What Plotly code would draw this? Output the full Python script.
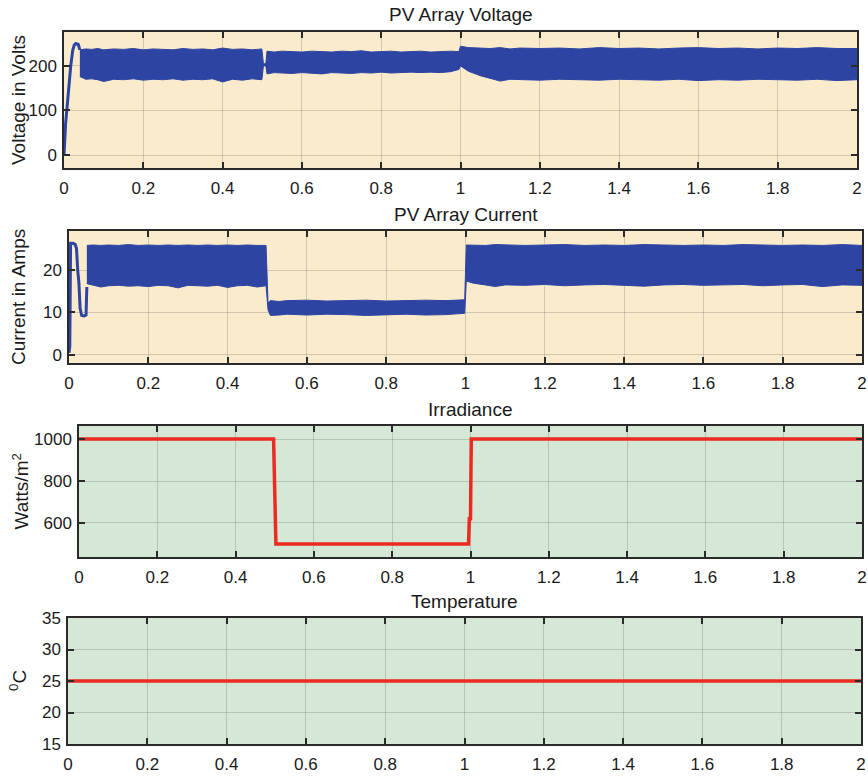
import plotly.graph_objects as go

# ---------------- data ----------------
# PV array voltage: start-up transient
volt_start_t = [0.0, 0.001, 0.004, 0.008, 0.012, 0.017, 0.022, 0.026, 0.030, 0.036, 0.040]
volt_start_v = [0, 20, 70, 110, 160, 200, 235, 247, 250, 248, 236]
# PV array voltage: ripple band envelope (upper / lower)
volt_band_t = [0.040, 0.055, 0.07, 0.085, 0.10, 0.125, 0.15, 0.175, 0.20, 0.225, 0.25, 0.275,
               0.30, 0.325, 0.35, 0.375, 0.40, 0.425, 0.45, 0.475, 0.499,
               0.503, 0.509,
               0.512, 0.53, 0.55, 0.575, 0.60, 0.625, 0.65, 0.675, 0.70, 0.725, 0.75, 0.775,
               0.80, 0.825, 0.85, 0.875, 0.90, 0.925, 0.95, 0.975, 0.996,
               1.000, 1.02, 1.05, 1.075, 1.10, 1.125, 1.15, 1.20, 1.25, 1.30, 1.35, 1.40, 1.45,
               1.50, 1.55, 1.60, 1.65, 1.70, 1.75, 1.80, 1.85, 1.90, 1.95, 2.00]
volt_band_hi = [236, 238, 237, 239, 236, 238, 237, 239, 236, 238, 237, 236,
                239, 237, 238, 236, 240, 237, 238, 236, 238,
                205, 205,
                233, 231, 233, 232, 231, 233, 232, 231, 233, 232, 234, 231,
                232, 233, 231, 232, 233, 231, 232, 233, 232,
                244, 241, 240, 239, 241, 238, 240, 239, 240, 238, 241, 239, 240,
                238, 240, 241, 239, 240, 238, 240, 239, 241, 239, 239]
volt_band_lo = [176, 170, 171, 169, 165, 170, 169, 171, 168, 170, 169, 171,
                168, 170, 169, 171, 164, 170, 168, 171, 169,
                200, 200,
                182, 185, 184, 183, 185, 184, 182, 185, 184, 183, 185, 184,
                186, 184, 185, 186, 185, 186, 185, 187, 192,
                200, 188, 178, 172, 166, 170, 169, 168, 170, 169, 168, 170, 169,
                168, 170, 167, 169, 168, 170, 169, 168, 170, 167, 169]

# PV array current: start-up transient
curr_start_t = [0.0, 0.002, 0.004, 0.010, 0.016, 0.019, 0.022, 0.025, 0.028, 0.032, 0.038, 0.043, 0.045]
curr_start_i = [0.5, 2.0, 26.3, 26.3, 26.0, 25.0, 20.0, 17.0, 11.0, 9.3, 9.2, 9.4, 16.0]
# PV array current: ripple band envelope
curr_band_t = [0.045, 0.06, 0.08, 0.10, 0.125, 0.15, 0.175, 0.20, 0.225, 0.25, 0.275, 0.30,
               0.325, 0.35, 0.375, 0.40, 0.425, 0.45, 0.475, 0.497,
               0.502, 0.508, 0.53, 0.55, 0.60, 0.65, 0.70, 0.75, 0.80, 0.85, 0.90, 0.95, 0.998,
               1.002, 1.02, 1.05, 1.075, 1.10, 1.15, 1.20, 1.25, 1.30, 1.35, 1.40, 1.45, 1.50,
               1.55, 1.60, 1.65, 1.70, 1.75, 1.80, 1.85, 1.90, 1.95, 2.00]
curr_band_hi = [25.8, 25.9, 25.8, 25.9, 25.8, 26.0, 25.8, 25.9, 25.8, 25.9, 25.8, 25.9,
                25.8, 25.9, 25.8, 25.9, 25.8, 25.9, 25.8, 25.8,
                12.2, 12.8, 12.6, 12.8, 12.9, 12.7, 12.8, 12.9, 12.7, 12.8, 12.9, 12.8, 13.0,
                25.9, 25.9, 25.8, 26.0, 25.9, 25.8, 25.9, 26.0, 25.8, 25.9, 25.8, 26.0, 25.9,
                25.8, 25.9, 25.8, 26.0, 25.9, 25.8, 25.9, 25.8, 26.0, 25.8]
curr_band_lo = [16.8, 16.4, 16.0, 16.3, 16.4, 16.2, 16.3, 16.1, 16.4, 16.3, 15.8, 16.4,
                16.3, 16.2, 16.4, 15.9, 16.3, 16.4, 16.0, 16.3,
                10.6, 9.3, 9.4, 9.6, 9.4, 9.6, 9.5, 9.3, 9.5, 9.6, 9.4, 9.5, 9.8,
                17.4, 16.9, 16.5, 16.1, 16.5, 16.4, 16.6, 16.3, 16.5, 16.6, 16.4, 16.2, 16.5,
                16.6, 16.4, 16.5, 16.6, 16.3, 16.5, 16.6, 16.1, 16.5, 16.4]

# Irradiance
irr_t = [0.0, 0.497, 0.503, 0.995, 0.997, 1.000, 1.002, 2.0]
irr_v = [1000, 1000, 500, 500, 620, 620, 1000, 1000]

# Temperature
temp_t = [0.0, 2.0]
temp_v = [25, 25]

x_ticks = [0, 0.2, 0.4, 0.6, 0.8, 1.0, 1.2, 1.4, 1.6, 1.8, 2.0]
x_tick_text = ["0", "0.2", "0.4", "0.6", "0.8", "1", "1.2", "1.4", "1.6", "1.8", "2"]

titles = ["PV Array Voltage", "PV Array Current", "Irradiance", "Temperature"]
ylabels = ["Voltage in Volts", "Current in Amps", "Watts/m<sup>2</sup>", "<sup>0</sup>C"]

# ---------------- style ----------------
W, H = 868, 777
BLUE = "#2E44A2"
RED = "#EC2A22"
PEACH = "#FBEBCD"
GREEN = "#D5E8D6"
FONT = "Liberation Sans, Arial, sans-serif"
TXT = "#1a1a1a"

# plot boxes in pixels: (left, right, top, bottom)
boxes = [(64, 857, 32, 168), (69, 862, 231, 363), (79, 862, 426, 557), (68, 861, 618, 744)]
yranges = [[-29, 276], [-1.9, 29.2], [438, 1062], [15, 35]]
yticks = [[0, 100, 200], [0, 10, 20], [600, 800, 1000], [15, 20, 25, 30, 35]]
bgs = [PEACH, PEACH, GREEN, GREEN]

fig = go.Figure()

def band(t, hi, lo):
    return list(t) + list(reversed(t)), list(hi) + list(reversed(lo))

bx, by = band(volt_band_t, volt_band_hi, volt_band_lo)
fig.add_trace(go.Scatter(x=bx, y=by, fill="toself", fillcolor=BLUE, mode="lines",
                         line=dict(color=BLUE, width=1), xaxis="x", yaxis="y", hoverinfo="skip"))
fig.add_trace(go.Scatter(x=volt_start_t, y=volt_start_v, mode="lines",
                         line=dict(color=BLUE, width=3), xaxis="x", yaxis="y"))
bx, by = band(curr_band_t, curr_band_hi, curr_band_lo)
fig.add_trace(go.Scatter(x=bx, y=by, fill="toself", fillcolor=BLUE, mode="lines",
                         line=dict(color=BLUE, width=1), xaxis="x2", yaxis="y2", hoverinfo="skip"))
fig.add_trace(go.Scatter(x=curr_start_t, y=curr_start_i, mode="lines",
                         line=dict(color=BLUE, width=3), xaxis="x2", yaxis="y2"))
fig.add_trace(go.Scatter(x=irr_t, y=irr_v, mode="lines",
                         line=dict(color=RED, width=3.5), xaxis="x3", yaxis="y3"))
fig.add_trace(go.Scatter(x=temp_t, y=temp_v, mode="lines",
                         line=dict(color=RED, width=3.5), xaxis="x4", yaxis="y4"))

layout = dict(width=W, height=H, margin=dict(l=0, r=0, t=0, b=0, pad=0, autoexpand=False),
              paper_bgcolor="white", plot_bgcolor="white", showlegend=False,
              font=dict(family=FONT, color=TXT, size=17))
annotations = []
shapes = []
for i, (l, r, t, b) in enumerate(boxes):
    n = "" if i == 0 else str(i + 1)
    xd = [l / W, r / W]
    yd = [1 - b / H, 1 - t / H]
    common = dict(showline=True, linecolor="#2a2a2a", linewidth=1.5, mirror="ticks",
                  ticks="inside", ticklen=6, tickwidth=1.5, tickcolor="#2a2a2a",
                  showgrid=True, gridcolor="rgba(90,90,90,0.25)", gridwidth=1,
                  zeroline=False, automargin=False,
                  tickfont=dict(family=FONT, size=17, color=TXT))
    layout["xaxis" + n] = dict(domain=xd, anchor="y" + n, range=[0, 2],
                               tickvals=x_ticks, ticktext=x_tick_text,
                               ticklabelstandoff=4, **common)
    layout["yaxis" + n] = dict(domain=yd, anchor="x" + n, range=yranges[i],
                               tickvals=yticks[i], ticklabelstandoff=2, **common)
    shapes.append(dict(type="rect", xref="x" + n + " domain", yref="y" + n + " domain",
                       x0=0, x1=1, y0=0, y1=1, fillcolor=bgs[i], line=dict(width=0), layer="below"))
    annotations.append(dict(text=titles[i], x=(l + r) / 2 / W, y=1 - (t - 17) / H,
                            xref="paper", yref="paper", showarrow=False,
                            font=dict(family=FONT, size=19, color=TXT),
                            xanchor="center", yanchor="middle"))
ylab_x = [18, 18, 20, 18]
for i, (l, r, t, b) in enumerate(boxes):
    annotations.append(dict(text=ylabels[i], x=ylab_x[i] / W, y=1 - (t + b) / 2 / H,
                            xref="paper", yref="paper", showarrow=False, textangle=-90,
                            font=dict(family=FONT, size=19, color=TXT),
                            xanchor="center", yanchor="middle"))
layout["annotations"] = annotations
layout["shapes"] = shapes
fig.update_layout(**layout)

fig.write_html("out.html", config={"displayModeBar": False},
               post_script="document.body.style.margin='0';document.body.style.overflow='hidden';")
